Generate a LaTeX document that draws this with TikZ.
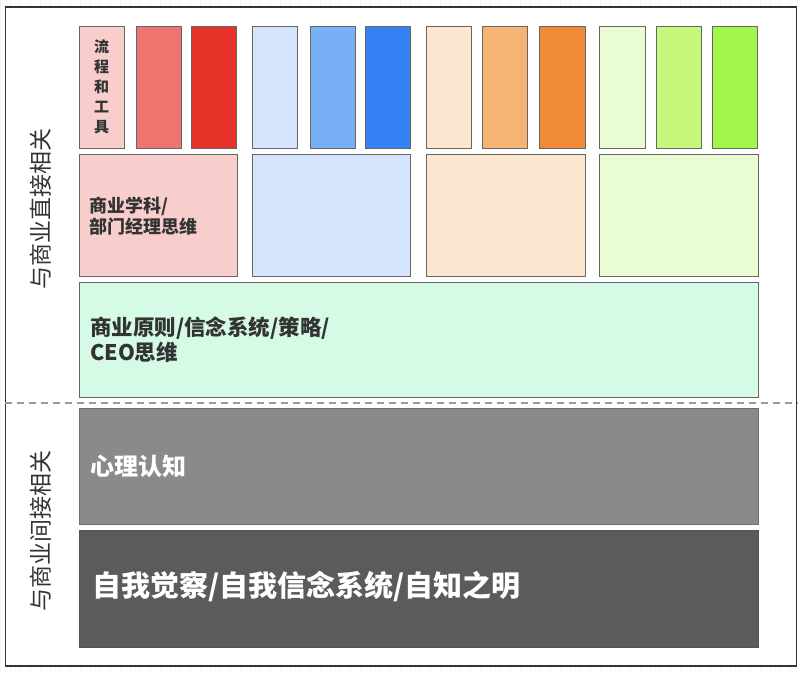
\documentclass[tikz,border=0pt]{standalone}
\usepackage{fontspec}
\newfontfamily\cjk{Noto Sans CJK SC}
\definecolor{boxline}{HTML}{666666}
\definecolor{framec}{HTML}{333333}
\definecolor{txt}{HTML}{333333}
\definecolor{gridc}{HTML}{F4F4F4}
\definecolor{dashc}{HTML}{999999}
\definecolor{pinkA}{HTML}{F8CECC}
\definecolor{pinkB}{HTML}{EE7470}
\definecolor{pinkC}{HTML}{E8332A}
\definecolor{blueA}{HTML}{D4E4FC}
\definecolor{blueB}{HTML}{78B0F6}
\definecolor{blueC}{HTML}{3381F2}
\definecolor{oraA}{HTML}{FCE6D0}
\definecolor{oraB}{HTML}{F5B474}
\definecolor{oraC}{HTML}{F08A35}
\definecolor{grnA}{HTML}{E9FCD4}
\definecolor{grnB}{HTML}{C6F77A}
\definecolor{grnC}{HTML}{A3F74B}
\definecolor{mint}{HTML}{D5FAE6}
\definecolor{grayM}{HTML}{8A8A8A}
\definecolor{grayD}{HTML}{5B5B5B}
\begin{document}
\begin{tikzpicture}[x=1pt,y=-1pt,
  box/.style={draw=boxline, line width=1pt, anchor=north west, inner sep=0pt, outer sep=0pt},
  slim/.style={box, minimum width=45pt, minimum height=122pt},
  wide/.style={box, minimum width=158pt, minimum height=122pt},
  full/.style={box, minimum width=679pt},
  lbl/.style={font=\cjk\bfseries, text=txt, inner sep=0pt, anchor=west, align=left},
  side/.style={font=\cjk\fontsize{23}{23}\selectfont, text=txt, inner sep=0pt, rotate=90}
]
\useasboundingbox (0,0) rectangle (800,672);
\fill[white] (0,0) rectangle (800,672);
\draw[gridc, line width=0.6pt, step=10] (0,0) grid (800,672);
\node[draw=framec, line width=1.6pt, fill=white, anchor=north west, inner sep=0pt, minimum width=791pt, minimum height=659pt] (frame) at (4.5,6) {};
% row 1
\node[slim, fill=pinkA] (p1) at (79,26) {};
\node[slim, fill=pinkB] (p2) at (136,26) {};
\node[slim, fill=pinkC] (p3) at (191,26) {};
\node[slim, fill=blueA] (b1) at (252,26) {};
\node[slim, fill=blueB] (b2) at (310,26) {};
\node[slim, fill=blueC] (b3) at (365,26) {};
\node[slim, fill=oraA] (o1) at (426,26) {};
\node[slim, fill=oraB] (o2) at (482,26) {};
\node[slim, fill=oraC, minimum width=46pt] (o3) at (539,26) {};
\node[slim, fill=grnA, minimum width=46pt] (g1) at (599,26) {};
\node[slim, fill=grnB] (g2) at (656,26) {};
\node[slim, fill=grnC] (g3) at (712,26) {};
% row 2
\node[wide, fill=pinkA] (pw) at (79,154) {};
\node[wide, fill=blueA] (bw) at (252,154) {};
\node[wide, fill=oraA, minimum width=159pt] (ow) at (426,154) {};
\node[wide, fill=grnA, minimum width=159pt] (gw) at (599,154) {};
% full rows
\node[full, fill=mint, minimum height=115pt] (mt) at (79,282) {};
\node[full, fill=grayM, draw=grayM!80!black, minimum height=116pt] (gm) at (79,408) {};
\node[full, fill=grayD, draw=grayD!90!black, minimum height=117pt] (gd) at (79,530) {};
% dashed divider
\draw[dashc, line width=1.5pt, dash pattern=on 7pt off 5pt] (frame.west |- 0,403) coordinate (dl) -- (frame.east |- 0,403) coordinate (dr);
% texts
\node[font=\cjk\bfseries\fontsize{15}{20}\selectfont, text=txt, inner sep=0pt, align=center] (t1) at (p1.center) {流\\程\\和\\工\\具};
\node[lbl, font=\cjk\bfseries\fontsize{18}{21.5}\selectfont] (t2) at (89,216) {商业学科/\\部门经理思维};
\node[lbl, font=\cjk\bfseries\fontsize{21.5}{25}\selectfont] (t3) at (90,340) {商业原则/信念系统/策略/\\CEO思维};
\node[lbl, font=\cjk\bfseries\fontsize{24}{24}\selectfont, text=white] (t4) at (90,466) {心理认知};
\node[lbl, font=\cjk\bfseries\fontsize{29}{29}\selectfont, text=white] (t5) at (92,587) {自我觉察/自我信念系统/自知之明};
\node[side] (s1) at (41,209) {与商业直接相关};
\node[side] (s2) at (41,531) {与商业间接相关};
\end{tikzpicture}
\end{document}
